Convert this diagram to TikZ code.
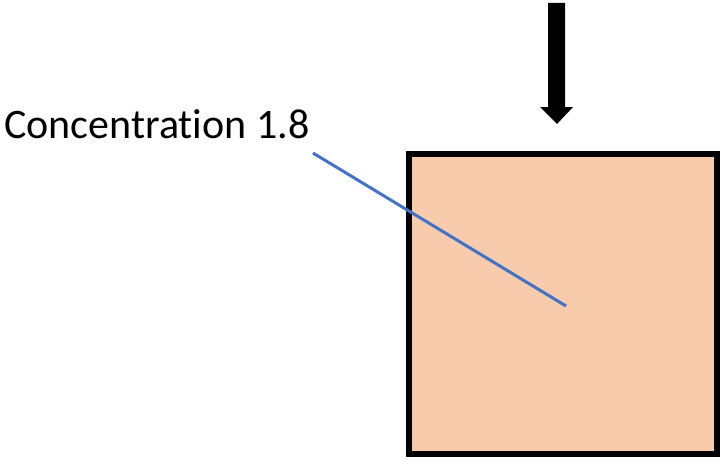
\documentclass[tikz,border=0pt]{standalone}
\usepackage{fontspec}
\setmainfont[Ligatures=NoCommon]{Carlito}
\definecolor{boxfill}{HTML}{F8CBAD}
\definecolor{lineblue}{HTML}{4472C4}
\begin{document}
\begin{tikzpicture}[x=0.75pt,y=-0.75pt,
  boxstyle/.style={draw=black,line width=4.5pt,fill=boxfill},
  leader/.style={draw=lineblue,line width=2.25pt},
  lbl/.style={font=\fontsize{31.5}{36}\selectfont,inner sep=0pt}]
\useasboundingbox (0,0) rectangle (720,460);
\path[boxstyle] (409,154) rectangle (717,454);
\node[lbl,anchor=base west] (label) at (4,138) {Concentration 1.8};
\coordinate (lstart) at (313,153);
\coordinate (lend) at (566,306);
\draw[leader] (lstart) -- (lend);
\fill[black] (548,3) -- (565,3) -- (565,107) -- (573,107) -- (557,124) -- (540,107) -- (548,107) -- cycle;
\end{tikzpicture}
\end{document}
